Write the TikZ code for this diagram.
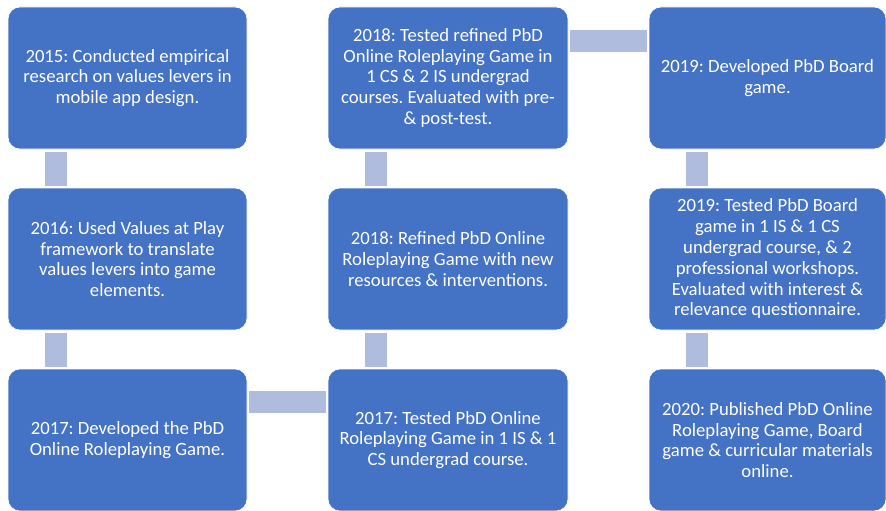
\documentclass[tikz,border=0pt]{standalone}
\usepackage{fontspec}
\setmainfont{Carlito}
\usetikzlibrary{calc}
\definecolor{boxblue}{HTML}{4472C4}
\definecolor{linkblue}{HTML}{AFBCDE}
\tikzset{
  stagebox/.style={rectangle, rounded corners=12pt, fill=boxblue, draw=white, line width=0.6pt,
    text=white, align=center, inner sep=0pt, minimum height=142pt,
    font=\fontsize{18.7}{20.8}\selectfont\frenchspacing},
  linkbar/.style={draw=linkblue, line width=22pt, line cap=butt},
}
\begin{document}
\begin{tikzpicture}
\useasboundingbox (0,0) rectangle (886pt,-511pt);

% first column
\node[stagebox, minimum width=239pt] (b11) at (127.5pt,-78pt)
  {2015: Conducted empirical\\research on values levers in\\mobile app design.};
\node[stagebox, minimum width=239pt] (b12) at (127.5pt,-259pt)
  {2016: Used Values at Play\\framework to translate\\values levers into game\\elements.};
\node[stagebox, minimum width=239pt] (b13) at (127.5pt,-440pt)
  {2017: Developed the PbD\\Online Roleplaying Game.};

% second column
\node[stagebox, minimum width=240pt] (b21) at (448pt,-78pt)
  {2018: Tested refined PbD\\Online Roleplaying Game in\\1 CS \& 2 IS undergrad\\courses. Evaluated with pre-\\\& post-test.};
\node[stagebox, minimum width=240pt] (b22) at (448pt,-259pt)
  {2018: Refined PbD Online\\Roleplaying Game with new\\resources \& interventions.};
\node[stagebox, minimum width=240pt] (b23) at (448pt,-440pt)
  {2017: Tested PbD Online\\Roleplaying Game in 1 IS \& 1\\CS undergrad course.};

% third column
\node[stagebox, minimum width=237pt] (b31) at (767.5pt,-78pt)
  {2019: Developed PbD Board\\game.};
\node[stagebox, minimum width=237pt] (b32) at (767.5pt,-259pt)
  {2019: Tested PbD Board\\game in 1 IS \& 1 CS\\undergrad course, \& 2\\professional workshops.\\Evaluated with interest \&\\relevance questionnaire.};
\node[stagebox, minimum width=237pt] (b33) at (767.5pt,-440pt)
  {2020: Published PbD Online\\Roleplaying Game, Board\\game \& curricular materials\\online.};

% vertical links
\draw[linkbar] ($(b11.south west)+(48pt,-3pt)$) -- ($(b12.north west)+(48pt,2pt)$);
\draw[linkbar] ($(b12.south west)+(48pt,-3pt)$) -- ($(b13.north west)+(48pt,2pt)$);
\draw[linkbar] ($(b23.north west)+(48pt,2pt)$) -- ($(b22.south west)+(48pt,-3pt)$);
\draw[linkbar] ($(b22.north west)+(48pt,2pt)$) -- ($(b21.south west)+(48pt,-3pt)$);
\draw[linkbar] ($(b31.south west)+(48pt,-3pt)$) -- ($(b32.north west)+(48pt,2pt)$);
\draw[linkbar] ($(b32.south west)+(48pt,-3pt)$) -- ($(b33.north west)+(48pt,2pt)$);

% horizontal links
\draw[linkbar] ($(b13.north east)+(1.5pt,-33.5pt)$) -- ($(b23.north west)+(-1.5pt,-33.5pt)$);
\draw[linkbar] ($(b21.north east)+(1.5pt,-34.5pt)$) -- ($(b31.north west)+(-1.5pt,-34.5pt)$);
\end{tikzpicture}
\end{document}
